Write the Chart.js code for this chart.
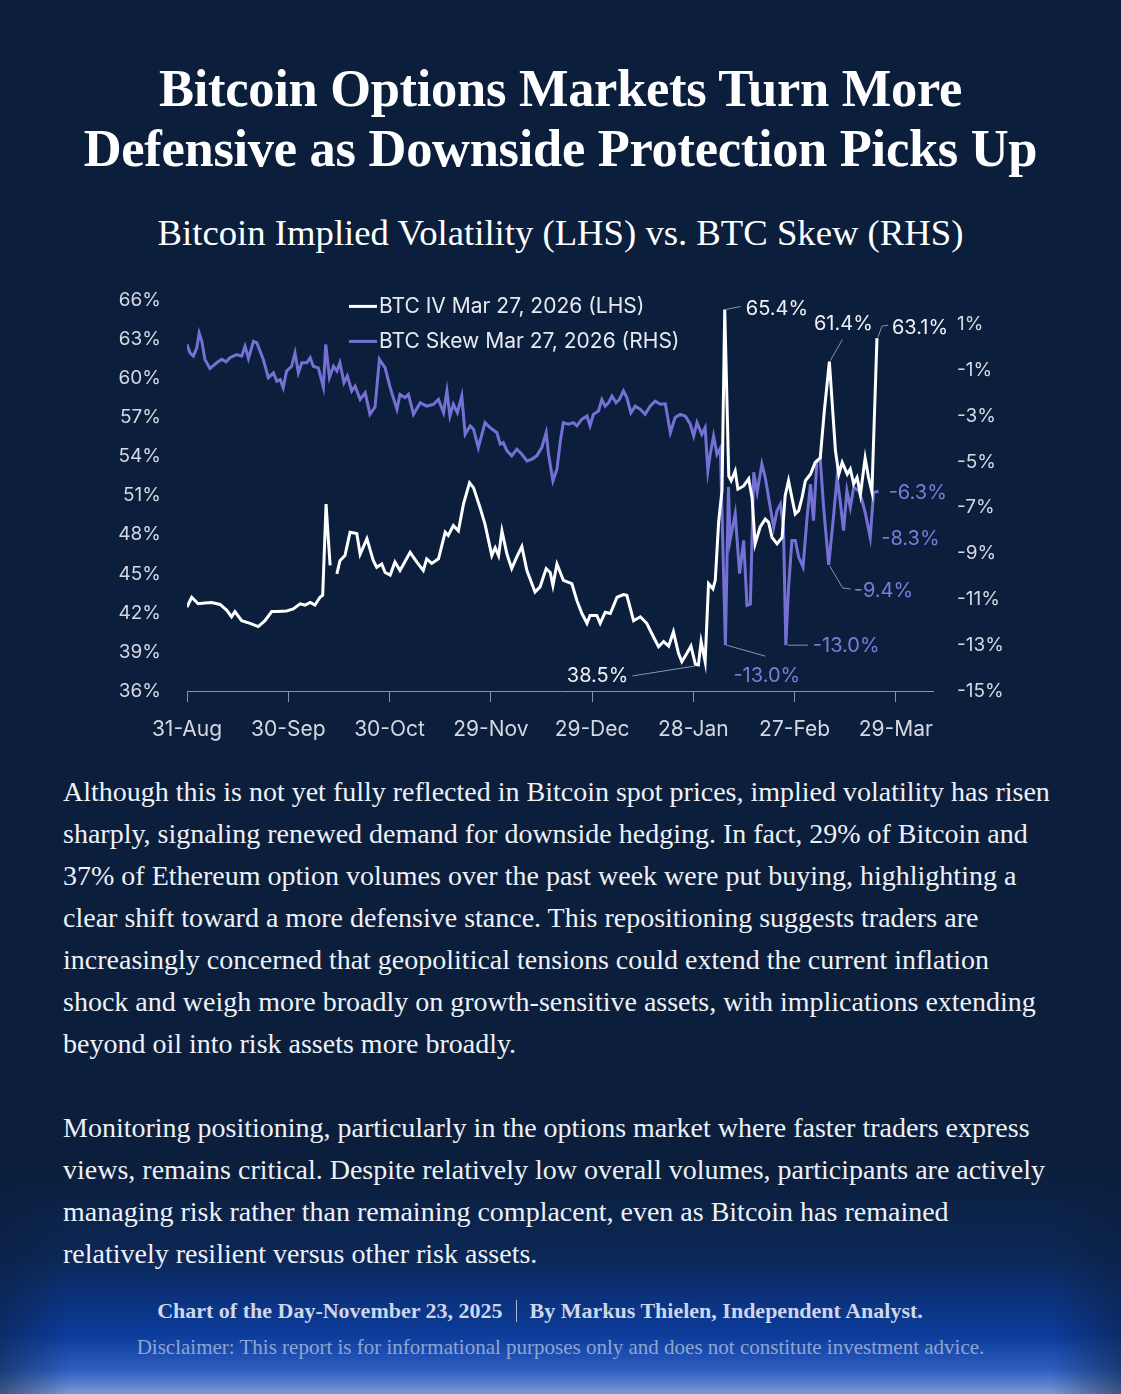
<!DOCTYPE html>
<html>
<head>
<meta charset="utf-8">
<script src="https://cdn.jsdelivr.net/npm/chart.js@4.4.1/dist/chart.umd.min.js"></script>
<style>
    html, body { margin: 0; padding: 0; }
    body {
        width: 1121px;
        height: 1394px;
        overflow: hidden;
        position: relative;
        background: linear-gradient(to bottom, #0b1f3d 0px, #0b1f3d 1170px, #0c2756 1255px, #0b3c9c 1335px, #2d5ec0 1370px, #7a99d6 1394px);
        font-family: "Liberation Serif", serif;
        color: #eef1f6;
    }
    .vignette {
        position: absolute; left: 0; top: 1180px; width: 1121px; height: 214px;
        background: linear-gradient(to right, rgba(11, 31, 61, 0.55) 0px, rgba(11, 31, 61, 0) 70px, rgba(11, 31, 61, 0) 1051px, rgba(11, 31, 61, 0.55) 1121px);
    }
    .title {
        position: absolute; left: 0; width: 1121px; text-align: center;
        font-weight: bold; font-size: 52.5px; line-height: 60px; color: #ffffff;
        top: 58px; letter-spacing: -0.3px;
    }
    .subtitle {
        position: absolute; left: 0; width: 1121px; text-align: center;
        font-size: 36.7px; top: 211px; color: #ffffff;
    }
    #chartBox { position: absolute; left: 100px; top: 263px; width: 940px; height: 488px; }
    .body {
        position: absolute; left: 63px; top: 771px; font-size: 28px; line-height: 42px;
        color: #eef1f6;
    }
    .body div { white-space: nowrap; }
    .body .gap { height: 42px; }
    .footer {
        position: absolute; left: 0; width: 1080px; text-align: center; top: 1298px;
        font-weight: bold; font-size: 22px; color: #cdd6ea;
    }
    .footer .sep { display: inline-block; width: 1px; height: 22px; background: #aab6d0; margin: 0 13px; vertical-align: -4px; }
    .disclaimer {
        position: absolute; left: 0; width: 1121px; text-align: center; top: 1335px;
        font-size: 21px; color: #8fa5d2;
    }
</style>
</head>
<body>
<div class="vignette"></div>
<div class="title">Bitcoin Options Markets Turn More<br>Defensive as Downside Protection Picks Up</div>
<div class="subtitle">Bitcoin Implied Volatility (LHS) vs. BTC Skew (RHS)</div>
<div id="chartBox"><canvas id="ivSkewChart"></canvas></div>
<div class="body">
    <div>Although this is not yet fully reflected in Bitcoin spot prices, implied volatility has risen</div>
    <div>sharply, signaling renewed demand for downside hedging. In fact, 29% of Bitcoin and</div>
    <div>37% of Ethereum option volumes over the past week were put buying, highlighting a</div>
    <div>clear shift toward a more defensive stance. This repositioning suggests traders are</div>
    <div>increasingly concerned that geopolitical tensions could extend the current inflation</div>
    <div>shock and weigh more broadly on growth-sensitive assets, with implications extending</div>
    <div>beyond oil into risk assets more broadly.</div>
    <div class="gap"></div>
    <div>Monitoring positioning, particularly in the options market where faster traders express</div>
    <div>views, remains critical. Despite relatively low overall volumes, participants are actively</div>
    <div>managing risk rather than remaining complacent, even as Bitcoin has remained</div>
    <div>relatively resilient versus other risk assets.</div>
</div>
<div class="footer">Chart of the Day-November 23, 2025<span class="sep"></span>By Markus Thielen, Independent Analyst.</div>
<div class="disclaimer">Disclaimer: This report is for informational purposes only and does not constitute investment advice.</div>

<script>
// x values are days counted from 31-Aug
const xTickDays = [0, 30, 60, 90, 120, 150, 180, 210];
const xTickLabels = ['31-Aug', '30-Sep', '30-Oct', '29-Nov', '29-Dec', '28-Jan', '27-Feb', '29-Mar'];
const leftTicks = [36, 39, 42, 45, 48, 51, 54, 57, 60, 63, 66];
const rightTicks = [-15, -13, -11, -9, -7, -5, -3, -1, 1];

// BTC IV Mar 27, 2026 (LHS), in %
const ivDays = [0, 1.4, 3.3, 5.3, 7.3, 9.8, 11.8, 13.2, 14.2, 16.2, 18.7, 21.1, 23.1, 25.1, 26.6, 29.5, 31.5, 33.5, 35.0, 36.5,
    37.9, 39.4, 40.2, 41.2, 41.9, 42.4, 43.5, 44.4, 45.3, 46.8, 48.3, 50.3, 51.3, 53.3, 55.2, 56.2, 57.7, 58.7, 60.2, 61.6,
    63.1, 66.1, 68.1, 70.0, 71.0, 72.5, 74.5, 76.5, 77.4, 78.9, 80.4, 81.9, 83.7, 84.9, 86.8, 88.3, 90.3, 91.3, 92.3, 93.3,
    94.8, 96.2, 97.7, 99.2, 100.7, 103.1, 104.6, 106.4, 107.6, 108.4, 109.6, 111.5, 114.0, 115.5, 117.0, 118.5, 119.4, 121.4, 122.4, 123.9,
    125.4, 127.4, 129.3, 130.3, 132.3, 134.3, 136.2, 138.2, 139.7, 141.2, 142.7, 144.1, 145.6, 146.6, 148.1, 149.3, 150.6, 151.5, 152.3, 153.5,
    154.5, 155.8, 156.5, 157.5, 158.5, 159.3, 160.5, 161.2, 162.4, 163.2, 164.9, 166.4, 167.4, 168.3, 169.8, 171.3, 172.3, 173.3, 174.8, 176.3,
    177.2, 178.2, 179.2, 180.2, 181.2, 182.2, 183.2, 184.7, 186.1, 187.6, 188.8, 190.3, 192.1, 193.1, 194.1, 195.6, 196.5, 197.5, 198.5, 199.5,
    200.9, 201.9, 202.9, 204.4];
const ivValues = [42.45, 43.2, 42.7, 42.75, 42.8, 42.65, 42.2, 41.7, 42.1, 41.4, 41.2, 40.95, 41.4, 42.1, 42.1, 42.15, 42.3, 42.7, 42.6, 42.8,
    42.6, 43.2, 43.35, 50.35, 47.55, 45.65, null, 45.0, 46.0, 46.4, 48.2, 48.1, 46.5, 47.7, 46.0, 45.5, 45.75, 45.1, 44.9, 45.9,
    45.25, 46.65, 45.9, 45.25, 46.15, 45.8, 46.15, 48.2, 47.95, 48.7, 48.3, 50.35, 52.0, 51.6, 50.1, 48.8, 46.4, 47.0, 46.4, 48.3,
    46.5, 45.4, 46.3, 47.1, 45.25, 43.6, 44.0, 45.4, 45.1, 44.1, 45.75, 44.5, 44.25, 42.95, 41.95, 41.2, 41.8, 41.8, 41.2, 42.05,
    41.95, 43.2, 43.4, 43.35, 41.4, 41.7, 41.2, 40.15, 39.4, 39.8, 39.45, 40.55, 38.9, 38.25, 38.9, 39.45, 38.05, 38.0, 39.8, 38.25,
    44.25, 43.85, 44.5, 49.0, 51.4, 65.3, 52.5, 52.15, 52.9, 51.5, 51.75, 52.3, 50.85, 47.3, 48.6, 49.2, 48.95, 47.8, 47.3, 47.8,
    51.0, 52.15, 50.85, 49.6, 49.85, 50.85, 52.15, 52.65, 53.55, 53.9, 57.5, 61.3, 54.45, 52.65, 53.55, 52.65, 53.05, 51.9, 52.4, 51.1,
    53.9, 52.4, 51.3, 63.1];

// BTC Skew Mar 27, 2026 (RHS), in %
const skewDays = [0, 0.9, 1.9, 2.9, 3.6, 4.4, 5.3, 6.8, 8.8, 10.3, 11.6, 12.7, 14.7, 16.2, 17.2, 18.2, 19.7, 20.7, 22.6, 24.1,
    25.6, 26.6, 27.6, 28.5, 29.5, 31.0, 32.0, 33.0, 34.0, 35.5, 36.5, 37.4, 38.9, 40.4, 41.1, 42.2, 43.4, 44.4, 45.3, 46.5,
    47.5, 48.8, 49.8, 51.3, 52.8, 54.2, 55.7, 57.0, 58.7, 60.2, 62.2, 63.1, 64.6, 65.6, 67.1, 69.1, 71.0, 73.0, 74.5, 76.0,
    77.0, 77.9, 78.9, 80.1, 81.4, 82.4, 83.9, 84.9, 86.3, 88.3, 89.8, 91.8, 92.8, 93.7, 94.8, 96.2, 97.7, 99.2, 100.7, 102.2,
    103.6, 105.1, 106.4, 107.1, 108.4, 109.6, 110.6, 111.5, 113.0, 114.5, 115.5, 117.0, 118.5, 119.4, 120.4, 121.9, 122.9, 123.9, 124.9, 125.9,
    127.1, 128.1, 129.3, 130.3, 131.5, 132.8, 134.3, 135.7, 137.2, 138.7, 140.2, 141.7, 143.2, 144.6, 146.1, 147.6, 149.1, 150.1, 151.1, 152.5,
    153.5, 154.3, 155.0, 156.0, 157.0, 158.0, 159.5, 160.4, 160.9, 162.4, 163.7, 164.9, 165.9, 166.9, 167.9, 168.9, 170.3, 171.3, 172.8, 173.8,
    174.8, 175.8, 176.7, 177.4, 178.2, 179.2, 180.2, 181.2, 182.5, 183.7, 184.7, 185.6, 186.6, 187.6, 188.6, 190.1, 191.6, 192.6, 193.6, 194.5,
    195.5, 196.5, 197.5, 199.0, 200.0, 201.0, 202.4, 203.4, 204.9];
const skewValues = [0.12, -0.25, -0.39, -0.03, 0.62, 0.26, -0.53, -0.93, -0.68, -0.53, -0.64, -0.46, -0.32, -0.39, 0.04, -0.49, 0.26, 0.19, -0.53, -1.33,
    -1.12, -1.48, -1.41, -1.77, -1.04, -0.83, -0.25, -1.12, -0.68, -0.68, -0.46, -0.83, -0.9, -1.74, 0.12, -1.33, -0.83, -1.04, -0.68, -1.55,
    -1.26, -1.91, -1.7, -2.28, -1.99, -2.93, -2.61, -0.53, -0.9, -1.77, -2.71, -2.06, -2.2, -2.06, -2.93, -2.42, -2.57, -2.49, -2.28, -2.86,
    -1.91, -3.0, -2.49, -2.86, -2.13, -3.8, -3.43, -3.58, -4.38, -3.29, -3.51, -3.73, -4.23, -4.16, -4.52, -4.74, -4.45, -4.67, -4.96, -4.88,
    -4.74, -4.38, -3.73, -4.67, -5.83, -5.32, -4.09, -3.29, -3.36, -3.29, -3.43, -3.14, -3.0, -3.43, -2.93, -2.78, -2.28, -2.57, -2.42, -2.13,
    -2.42, -2.28, -1.91, -2.2, -2.86, -2.57, -2.71, -2.93, -2.57, -2.35, -2.49, -2.47, -3.73, -3.07, -2.93, -3.0, -3.36, -3.87, -3.29, -3.8,
    -3.51, -5.39, -4.67, -3.87, -4.67, -4.4, -13.0, -6.1, -8.43, -7.27, -9.88, -8.43, -11.26, -11.2, -5.46, -6.33, -5.1, -5.68, -6.99, -7.86,
    -7.13, -6.84, -7.86, -13.0, -10.5, -8.43, -8.43, -9.16, -9.59, -7.42, -5.97, -7.57, -4.96, -4.88, -6.99, -9.5, -7.27, -5.68, -6.84, -8.0,
    -6.26, -6.99, -6.12, -6.26, -6.7, -7.27, -8.3, -6.33, -6.3];

// callouts: anchored on a data point, leader path and text offsets in px
const callouts = [
    { axis: 'y', day: 159.3, value: 65.3, text: '65.4%', color: '#eef0f5', path: [[1, 0], [16, -3]], tx: 21, ty: -1, align: 'left' },
    { axis: 'y', day: 190.3, value: 61.3, text: '61.4%', color: '#eef0f5', path: [[1, -1], [13, -22]], tx: 14, ty: -38, align: 'center' },
    { axis: 'y', day: 204.4, value: 63.1, text: '63.1%', color: '#eef0f5', path: [[1, -1], [5, -12], [11, -13]], tx: 15, ty: -10, align: 'left' },
    { axis: 'y', day: 151.5, value: 38.0, text: '38.5%', color: '#eef0f5', path: [[-3, 1], [-66, 11]], tx: -70, ty: 11, align: 'right' },
    { axis: 'y1', day: 159.5, value: -13.0, text: '-13.0%', color: '#7e7ad8', path: [[1, 0], [40, 11]], tx: 8, ty: 31, align: 'left' },
    { axis: 'y1', day: 177.4, value: -13.0, text: '-13.0%', color: '#7e7ad8', path: [[2, 0], [22, 0]], tx: 27, ty: 1, align: 'left' },
    { axis: 'y1', day: 190.1, value: -9.5, text: '-9.4%', color: '#7e7ad8', path: [[1, 1], [14, 23], [22, 24]], tx: 25, ty: 26, align: 'left' },
    { axis: 'y1', day: 202.4, value: -8.3, text: '-8.3%', color: '#7e7ad8', path: [], tx: 11, ty: 2, align: 'left' },
    { axis: 'y1', day: 204.9, value: -6.3, text: '-6.3%', color: '#7e7ad8', path: [], tx: 10, ty: 1, align: 'left' }
];

const AXIS_FONT = { family: 'Inter', size: 19 };
const DATE_FONT = { family: 'Inter', size: 21 };
const LABEL_COLOR = '#d3d8e2';
const IV_COLOR = '#ffffff';
const SKEW_COLOR = '#7571d4';

const calloutPlugin = {
    id: 'callouts',
    afterDatasetsDraw(chart) {
        const ctx = chart.ctx;
        const xs = chart.scales.x;
        ctx.save();
        ctx.font = `20px ${AXIS_FONT.family}`;
        ctx.textBaseline = 'middle';
        callouts.forEach(c => {
            const px = xs.getPixelForValue(c.day);
            const py = chart.scales[c.axis].getPixelForValue(c.value);
            if (c.path.length) {
                ctx.strokeStyle = '#8a94a8';
                ctx.lineWidth = 1;
                ctx.beginPath();
                c.path.forEach((p, i) => {
                    if (i === 0) ctx.moveTo(px + p[0], py + p[1]);
                    else ctx.lineTo(px + p[0], py + p[1]);
                });
                ctx.stroke();
            }
            ctx.fillStyle = c.color;
            ctx.textAlign = c.align;
            ctx.fillText(c.text, px + c.tx, py + c.ty);
        });
        ctx.restore();
    }
};

const legendPlugin = {
    id: 'customLegend',
    afterDraw(chart) {
        const ctx = chart.ctx;
        const area = chart.chartArea;
        const x0 = area.left + 162;
        ctx.save();
        ctx.font = `21px ${AXIS_FONT.family}`;
        ctx.textBaseline = 'middle';
        ctx.textAlign = 'left';
        chart.data.datasets.forEach((ds, i) => {
            const y = area.top + 6 + i * 35;
            ctx.strokeStyle = ds.borderColor;
            ctx.lineWidth = 3;
            ctx.beginPath();
            ctx.moveTo(x0, y);
            ctx.lineTo(x0 + 28, y);
            ctx.stroke();
            ctx.fillStyle = '#e6e9f0';
            ctx.fillText(ds.label, x0 + 30, y);
        });
        ctx.restore();
    }
};

new Chart(document.getElementById('ivSkewChart'), {
    type: 'line',
    data: {
        datasets: [{
            label: 'BTC IV Mar 27, 2026 (LHS)',
            data: ivDays.map((d, i) => ({ x: d, y: ivValues[i] })),
            borderColor: IV_COLOR,
            borderWidth: 3,
            pointRadius: 0,
            tension: 0,
            spanGaps: false,
            yAxisID: 'y'
        }, {
            label: 'BTC Skew Mar 27, 2026 (RHS)',
            data: skewDays.map((d, i) => ({ x: d, y: skewValues[i] })),
            borderColor: SKEW_COLOR,
            borderWidth: 3,
            pointRadius: 0,
            tension: 0,
            yAxisID: 'y1'
        }]
    },
    options: {
        responsive: true,
        maintainAspectRatio: false,
        animation: false,
        layout: { padding: { top: 2, left: 0, right: 0, bottom: 0 } },
        plugins: {
            legend: { display: false },
            tooltip: { enabled: false }
        },
        scales: {
            x: {
                type: 'linear',
                min: 0,
                max: 221,
                afterBuildTicks: (s) => { s.ticks = xTickDays.map(v => ({ value: v })); },
                afterFit: (s) => { s.height = 60; },
                ticks: {
                    color: LABEL_COLOR,
                    font: DATE_FONT,
                    padding: 15,
                    maxRotation: 0,
                    autoSkip: false,
                    callback: (v) => xTickLabels[xTickDays.indexOf(v)]
                },
                grid: { drawOnChartArea: false, drawTicks: true, tickLength: 11, color: '#8a93a6' },
                border: { display: true, color: '#8a93a6', width: 1 }
            },
            y: {
                position: 'left',
                min: 36,
                max: 66,
                afterBuildTicks: (s) => { s.ticks = leftTicks.map(v => ({ value: v })); },
                afterFit: (s) => { s.width = 87; },
                ticks: { color: LABEL_COLOR, font: AXIS_FONT, padding: 26, callback: (v) => v + '%' },
                grid: { display: false, drawTicks: false },
                border: { display: false }
            },
            y1: {
                position: 'right',
                min: -15,
                max: 2.043,
                afterBuildTicks: (s) => { s.ticks = rightTicks.map(v => ({ value: v })); },
                afterFit: (s) => { s.width = 107; },
                ticks: { color: LABEL_COLOR, font: AXIS_FONT, padding: 24, callback: (v) => v + '%' },
                grid: { display: false, drawTicks: false },
                border: { display: false }
            }
        }
    },
    plugins: [calloutPlugin, legendPlugin]
});
</script>
</body>
</html>
